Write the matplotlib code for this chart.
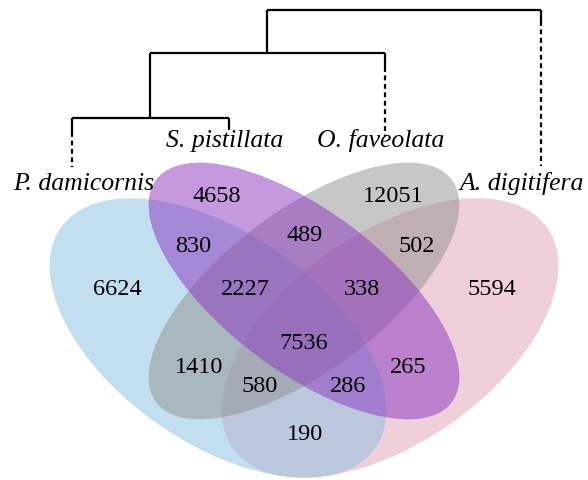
import matplotlib.pyplot as plt
from matplotlib.patches import Ellipse

plt.rcParams['font.family'] = ['Liberation Serif', 'DejaVu Serif']

species = ["P. damicornis", "S. pistillata", "O. faveolata", "A. digitifera"]
colors = ["#87c1e1", "#8a34bf", "#919191", "#e1a0b6"]

# region label -> count (sets: P=P. damicornis, S=S. pistillata, O=O. faveolata, A=A. digitifera)
region_keys = ["S", "O", "PS", "SO", "OA", "P", "PSO", "SOA", "A",
               "PSOA", "PO", "SA", "POA", "PSA", "PA"]
region_counts = [4658, 12051, 830, 489, 502, 6624, 2227, 338, 5594,
                 7536, 1410, 265, 580, 286, 190]

# layout (pixel coordinates, y downwards)
label_pos = {
    "S": (217, 197), "O": (393, 197), "PS": (193, 247), "SO": (305, 236),
    "OA": (417, 247), "P": (117, 290), "PSO": (245, 290), "SOA": (362, 290),
    "A": (492, 290), "PSOA": (304, 344), "PO": (199, 368), "SA": (408, 368),
    "POA": (260, 387), "PSA": (348, 387), "PA": (305, 435),
}
# ellipses per species: centre, width, height, angle
ellipses = [
    ((218, 339), 384, 210, 35),
    ((304, 292), 370, 160, 37),
    ((304, 292), 370, 160, -37),
    ((390, 339), 384, 210, -35),
]
draw_order = [3, 0, 2, 1]
species_pos = [(84, 184), (225, 141), (381, 141), (522, 184)]

fig = plt.figure(figsize=(5.88, 4.81), dpi=100)
ax = fig.add_axes([0, 0, 1, 1])
ax.set_xlim(0, 588)
ax.set_ylim(481, 0)
ax.axis('off')

for idx in draw_order:
    (cx, cy), w, h, ang = ellipses[idx]
    ax.add_patch(Ellipse((cx, cy), w, h, angle=ang, facecolor=colors[idx],
                         edgecolor='none', alpha=0.5))

for key, n in zip(region_keys, region_counts):
    x, y = label_pos[key]
    ax.text(x, y, str(n), ha='center', va='center', fontsize=17.5, color='black')

for name, (x, y) in zip(species, species_pos):
    ax.text(x, y, name, ha='center', va='center', fontsize=18.5, style='italic')

# dendrogram ((P, S), O), A
lw = 1.6
solid = dict(color='black', lw=lw, solid_capstyle='butt')
dashed = dict(color='black', lw=lw, linestyle=(0, (2.2, 1.6)))
# leaf x positions
xP, xS, xO, xA = 72, 229, 385, 541
y1, y2, y3 = 119, 54, 10.5
ax.plot([xP, xS], [y1, y1], **solid)
ax.plot([xP, xP], [y1, 133], **solid)
ax.plot([xP, xP], [133, 168], **dashed)
ax.plot([xS, xS], [y1, 131], **solid)
x12 = 150
ax.plot([x12, x12], [y2, y1], **solid)
ax.plot([x12, xO], [y2, y2], **solid)
ax.plot([xO, xO], [y2, 68], **solid)
ax.plot([xO, xO], [68, 137], **dashed)
x123 = 267
ax.plot([x123, x123], [y3, y2], **solid)
ax.plot([x123, xA], [y3, y3], **solid)
ax.plot([xA, xA], [y3, 22], **solid)
ax.plot([xA, xA], [22, 167], **dashed)

fig.savefig("out.png", dpi=100)
